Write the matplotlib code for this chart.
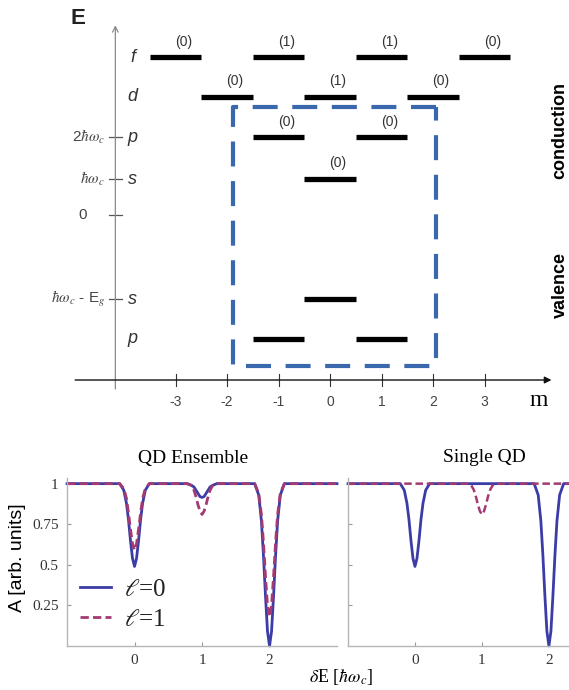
import numpy as np
import matplotlib
matplotlib.use("Agg")
from matplotlib import pyplot as plt

plt.rcParams['font.family'] = ['Liberation Sans', 'DejaVu Sans']
plt.rcParams['mathtext.fontset'] = 'stix'

# ---------------- data: level scheme ----------------
m_ticks = [-3, -2, -1, 0, 1, 2, 3]

# conduction levels (energy in schematic units, 0 = band edge)
cond_names = ['f', 'd', 'p', 's']
cond_y = [3.85, 2.88, 1.90, 0.88]
cond_m = [[-3, -1, 1, 3], [-2, 0, 2], [-1, 1], [0]]
cond_lab = [['(0)', '(1)', '(1)', '(0)'], ['(0)', '(1)', '(0)'], ['(0)', '(0)'], ['(0)']]

# valence levels
val_names = ['s', 'p']
val_y = [-2.05, -3.02]
val_m = [[0], [-1, 1]]

# energy axis labels
e_labels = [r'2$\hbar\omega_c$', r'$\hbar\omega_c$', '0', r'$\hbar\omega_c$ - E$_g$']
e_values = [1.90, 0.88, 0.0, -2.05]

# dashed selection box (m range, energy range)
box_m = [-1.88, 2.06]
box_e = [-3.68, 2.63]

# ---------------- data: absorption spectra ----------------
# each dip read at these offsets from its centre
dip_dx = [-0.22, -0.16, -0.12, -0.09, -0.06, -0.03, 0.0, 0.03, 0.06, 0.09, 0.12, 0.16, 0.22]

ens_l0_centers = [0, 1, 2]
ens_l0_dips = [[1.0, 0.96, 0.88, 0.78, 0.65, 0.54, 0.49, 0.54, 0.65, 0.78, 0.88, 0.96, 1.0],
               [1.0, 0.99, 0.98, 0.96, 0.94, 0.92, 0.915, 0.92, 0.94, 0.96, 0.98, 0.99, 1.0],
               [1.0, 0.93, 0.77, 0.56, 0.31, 0.09, 0.0, 0.09, 0.31, 0.56, 0.77, 0.93, 1.0]]
ens_l1_centers = [0, 1, 2]
ens_l1_dips = [[1.0, 0.97, 0.91, 0.82, 0.72, 0.63, 0.59, 0.63, 0.72, 0.82, 0.91, 0.97, 1.0],
               [1.0, 0.99, 0.96, 0.92, 0.87, 0.83, 0.81, 0.83, 0.87, 0.92, 0.96, 0.99, 1.0],
               [1.0, 0.94, 0.81, 0.64, 0.43, 0.25, 0.18, 0.25, 0.43, 0.64, 0.81, 0.94, 1.0]]

sgl_l0_centers = [0, 2]
sgl_l0_dips = [[1.0, 0.96, 0.88, 0.78, 0.65, 0.54, 0.49, 0.54, 0.65, 0.78, 0.88, 0.96, 1.0],
               [1.0, 0.93, 0.77, 0.56, 0.31, 0.09, 0.0, 0.09, 0.31, 0.56, 0.77, 0.93, 1.0]]
sgl_l1_centers = [1]
sgl_l1_dips = [[1.0, 0.99, 0.96, 0.92, 0.87, 0.83, 0.81, 0.83, 0.87, 0.92, 0.96, 0.99, 1.0]]

yticks = [0.25, 0.5, 0.75, 1.0]
ytick_labels = ['0.25', '0.5', '0.75', '1']
xticks = [0, 1, 2]

c_l0 = '#3b3ca6'
c_l1 = '#a33a72'
c_box = '#3a68ad'


def spectrum(centers, dips, x0, x1):
    xs = [x0]
    ys = [1.0]
    for c, d in zip(centers, dips):
        xs += [c + dx for dx in dip_dx]
        ys += d
    xs.append(x1)
    ys.append(1.0)
    return xs, ys


fig = plt.figure(figsize=(5.69, 6.90), dpi=100)

# ================= top: level scheme =================
ax0 = fig.add_axes([0, 0.391, 1, 0.609])
ax0.set_xlim(-6.41, 4.64)
ax0.set_ylim(-5.0, 5.244)
ax0.axis('off')

x_eaxis = -4.17
y_maxis = -4.02

ax0.annotate('', xy=(x_eaxis, 4.63), xytext=(x_eaxis, -4.24),
             arrowprops=dict(arrowstyle='->', color='#8a8a8a', lw=0.9, shrinkA=0, shrinkB=0))
ax0.annotate('', xy=(4.30, y_maxis), xytext=(-4.95, y_maxis),
             arrowprops=dict(arrowstyle='-|>', color='#111111', lw=1.0, mutation_scale=10,
                             shrinkA=0, shrinkB=0))
ax0.text(-4.89, 4.80, 'E', fontsize=16, fontweight='bold', color='#222222', ha='center', va='center')
ax0.text(4.05, -4.52, 'm', fontsize=17, family='Liberation Serif', ha='center', va='center')

for m in m_ticks:
    ax0.plot([m, m], [y_maxis + 0.15, y_maxis - 0.15], color='#333333', lw=0.8)
    ax0.text(m, -4.55, str(m), fontsize=10, color='#444444', ha='center', va='center')

for lab, ev in zip(e_labels, e_values):
    ax0.plot([x_eaxis - 0.12, x_eaxis + 0.12], [ev, ev], color='#555555', lw=0.9)
    if lab == '0':
        ax0.text(-4.8, ev, lab, fontsize=11, color='#444444', ha='center', va='center')
    else:
        ax0.text(x_eaxis - 0.2, ev, lab, fontsize=11, color='#444444', ha='right', va='center')

for name, ey, ms, labs in zip(cond_names, cond_y, cond_m, cond_lab):
    ax0.text(-3.83, ey, name, fontsize=13, style='italic', color='#333333', ha='center', va='center')
    for m, lb in zip(ms, labs):
        ax0.plot([m - 0.5, m + 0.5], [ey, ey], color='black', lw=3.8, solid_capstyle='butt')
        ax0.text(m + 0.15, ey + 0.38, lb, fontsize=10, color='#333333', ha='center', va='center')

for name, ey, ms in zip(val_names, val_y, val_m):
    ax0.text(-3.83, ey, name, fontsize=13, style='italic', color='#333333', ha='center', va='center')
    for m in ms:
        ax0.plot([m - 0.5, m + 0.5], [ey, ey], color='black', lw=3.8, solid_capstyle='butt')

bx = [box_m[1], box_m[0], box_m[0], box_m[1], box_m[1]]
by = [box_e[1], box_e[1], box_e[0], box_e[0], box_e[1]]
ax0.plot(bx, by, color=c_box, lw=3.0, dashes=(6, 3.5), solid_joinstyle='round',
         dash_joinstyle='round')

ax0.text(4.47, 2.07, 'conduction', fontsize=13, fontweight='bold', rotation=90,
         ha='center', va='center')
ax0.text(4.47, -1.71, 'valence', fontsize=13, fontweight='bold', rotation=90,
         ha='center', va='center')

# ================= bottom: spectra =================
ax1 = fig.add_axes([0.1178, 0.0638, 0.4745, 0.2435])
ax2 = fig.add_axes([0.6116, 0.0638, 0.3884, 0.2435])


def style(ax, show_labels):
    for s in ['top', 'right']:
        ax.spines[s].set_visible(False)
    for s in ['left', 'bottom']:
        ax.spines[s].set_color('#b5b5b5')
        ax.spines[s].set_linewidth(1.0)
    ax.set_ylim(0, 1.035)
    ax.set_yticks(yticks)
    ax.set_xticks(xticks)
    ax.tick_params(direction='in', length=3, color='#999999', labelcolor='#333333',
                   labelsize=11, pad=6)
    for t in ax.get_xticklabels() + ax.get_yticklabels():
        t.set_family('Liberation Serif')
    if show_labels:
        ax.set_yticklabels(ytick_labels)
    else:
        ax.set_yticklabels([])


x, y = spectrum(ens_l0_centers, ens_l0_dips, -1, 3)
ax1.plot(x, y, color=c_l0, lw=2.0, clip_on=False, label=r'$\ell$=0')
x, y = spectrum(ens_l1_centers, ens_l1_dips, -1, 3)
ax1.plot(x, y, color=c_l1, lw=2.0, ls=(0, (3.0, 1.5)), clip_on=False, label=r'$\ell$=1')
ax1.set_xlim(-1, 3)
style(ax1, True)

x, y = spectrum(sgl_l0_centers, sgl_l0_dips, -1, 2.3)
ax2.plot(x, y, color=c_l0, lw=2.0, clip_on=False)
x, y = spectrum(sgl_l1_centers, sgl_l1_dips, -1, 2.3)
ax2.plot(x, y, color=c_l1, lw=1.8, ls=(0, (3.0, 1.5)), clip_on=False)
ax2.set_xlim(-1, 2.3)
style(ax2, False)

leg = ax1.legend(loc='upper left', bbox_to_anchor=(0.1406, 0.1620), bbox_transform=fig.transFigure,
                 frameon=False, prop={'family': 'Liberation Serif', 'size': 18},
                 handlelength=1.25, handletextpad=0.5,
                 labelspacing=0.3, borderpad=0, borderaxespad=0)
for t in leg.get_texts():
    t.set_color('#222222')

fig.text(193 / 569, 1 - 458 / 690, 'QD Ensemble', fontsize=14, family='Liberation Serif',
         ha='center', va='center')
fig.text(484 / 569, 1 - 458 / 690, 'Single QD', fontsize=14, family='Liberation Serif',
         ha='center', va='center')
fig.text(18 / 569, 1 - 558 / 690, 'A [arb. units]', fontsize=14, rotation=90,
         ha='center', va='center')
fig.text(341 / 569, 1 - 677 / 690, r'$\delta$E [$\hbar\omega_c$]', fontsize=13,
         family='Liberation Serif', ha='center', va='center')

fig.savefig('out.png', dpi=100)
